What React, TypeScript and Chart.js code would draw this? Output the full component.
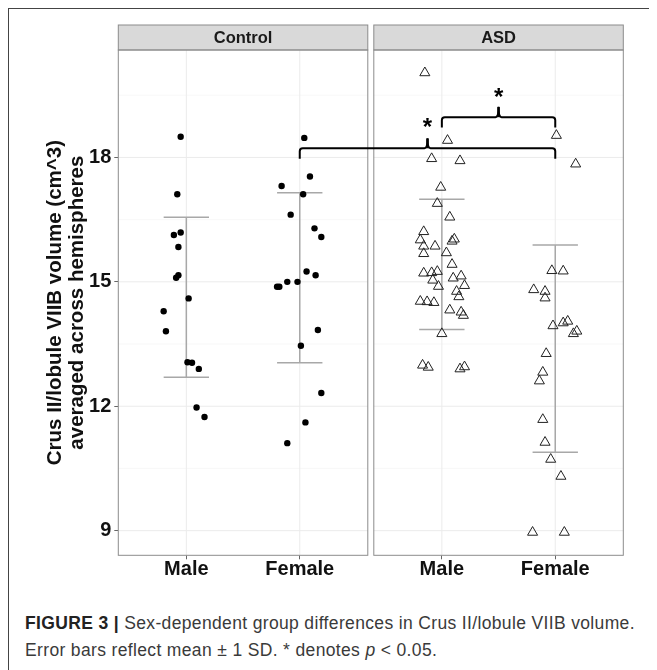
import React, { useEffect, useRef } from "react";
import { Chart, registerables } from "chart.js";

Chart.register(...registerables);

// ---------- data ----------
const groups = ["Control", "ASD"];
const sexes = ["Male", "Female"];
const yTicks = [9, 12, 15, 18];
const yMinorGrid = [10.5, 13.5, 16.5, 19.5];

const controlMaleY = [18.5, 17.11, 16.13, 16.19, 15.84, 15.1, 15.16, 14.6, 14.29, 13.81, 13.06, 13.05, 12.9, 11.97, 11.74];
const controlMaleJitter = [-0.05, -0.08, -0.11, -0.05, -0.07, -0.09, -0.07, 0.02, -0.2, -0.18, 0.01, 0.05, 0.11, 0.09, 0.16];

const controlFemaleY = [18.47, 17.54, 17.31, 17.11, 16.62, 16.29, 16.08, 15.25, 15.16, 15.0, 15.0, 14.88, 14.88, 13.84, 13.46, 12.32, 11.61, 11.11];
const controlFemaleJitter = [0.04, 0.09, -0.16, 0.03, -0.08, 0.13, 0.19, 0.06, 0.14, -0.11, -0.02, -0.2, -0.18, 0.16, 0.01, 0.19, 0.05, -0.11];

const asdMaleY = [20.04, 18.41, 17.97, 17.92, 17.28, 16.89, 16.56, 16.21, 16.01, 16.03, 15.98, 15.86, 15.86, 15.68, 15.7, 15.42, 15.21, 15.22, 15.25, 15.04, 15.09, 15.14, 14.89, 14.91, 14.77, 14.64, 14.53, 14.52, 14.5, 14.32, 14.27, 14.19, 13.75, 12.99, 12.94, 12.9, 12.95];
const asdMaleJitter = [-0.15, 0.05, -0.09, 0.16, -0.01, -0.04, 0.07, -0.16, -0.19, 0.11, 0.09, -0.16, -0.06, -0.16, 0.04, 0.09, -0.16, -0.09, -0.04, -0.08, 0.1, 0.17, -0.03, 0.2, 0.13, 0.15, -0.19, -0.13, -0.07, 0.07, 0.17, 0.19, 0.0, -0.17, -0.12, 0.16, 0.2];

const asdFemaleY = [18.53, 17.84, 15.27, 15.26, 14.81, 14.77, 14.61, 13.94, 14.01, 14.05, 13.81, 13.75, 13.27, 12.82, 12.61, 11.68, 11.13, 10.72, 10.31, 8.96, 8.96];
const asdFemaleJitter = [0.01, 0.18, -0.03, 0.07, -0.19, -0.09, -0.09, -0.02, 0.07, 0.11, 0.19, 0.16, -0.08, -0.11, -0.14, -0.11, -0.09, -0.04, 0.05, -0.2, 0.08];

// mean and SD per group (Control Male, Control Female, ASD Male, ASD Female)
const groupMeans = [14.63, 15.1, 15.42, 13.39];
const groupSD = [1.93, 2.05, 1.57, 2.5];

// significance brackets: [from group index, to group index]
const bracketFrom = [1, 2];
const bracketTo = [3, 3];
const bracketLineY = [18.22, 18.97];
const bracketTipY = [17.97, 18.72];
const bracketNotchY = [18.46, 19.22];
const bracketLabelY = [18.86, 19.6];
const bracketLabels = ["*", "*"];

// ---------- layout helpers (scale units) ----------
const panelWidth = 2.2;
const panelGap = 0.053;
const panelStarts = [0.4, 0.4 + panelWidth + panelGap];
const catPos = (g: number, s: number) => panelStarts[g] + 0.6 + s;
const groupPos = [catPos(0, 0), catPos(0, 1), catPos(1, 0), catPos(1, 1)];
const xTickLabels = [sexes[0], sexes[1], sexes[0], sexes[1]];

const FONT = "'Liberation Sans', Arial, Helvetica, sans-serif";

const facetPlugin = {
  id: "facetPlugin",
  beforeDatasetsDraw(chart: any) {
    const { ctx, chartArea, scales } = chart;
    const x = scales.x;
    const y = scales.y;
    ctx.save();
    panelStarts.forEach((ps, gi) => {
      const l = x.getPixelForValue(ps);
      const r = x.getPixelForValue(ps + panelWidth);
      ctx.fillStyle = "#ffffff";
      ctx.fillRect(l, chartArea.top, r - l, chartArea.bottom - chartArea.top);
      ctx.lineWidth = 0.6;
      ctx.strokeStyle = "#F3F3F3";
      yMinorGrid.forEach((v) => {
        const py = y.getPixelForValue(v);
        ctx.beginPath();
        ctx.moveTo(l, py);
        ctx.lineTo(r, py);
        ctx.stroke();
      });
      ctx.lineWidth = 1;
      ctx.strokeStyle = "#EBEBEB";
      yTicks.forEach((v) => {
        const py = y.getPixelForValue(v);
        ctx.beginPath();
        ctx.moveTo(l, py);
        ctx.lineTo(r, py);
        ctx.stroke();
      });
      sexes.forEach((_, si) => {
        const px = x.getPixelForValue(catPos(gi, si));
        ctx.beginPath();
        ctx.moveTo(px, chartArea.top);
        ctx.lineTo(px, chartArea.bottom);
        ctx.stroke();
      });
    });
    // error bars
    ctx.strokeStyle = "#A8A8A8";
    ctx.lineWidth = 1.5;
    groupPos.forEach((gp, i) => {
      const lo = y.getPixelForValue(groupMeans[i] - groupSD[i]);
      const hi = y.getPixelForValue(groupMeans[i] + groupSD[i]);
      const cx = x.getPixelForValue(gp);
      const cl = x.getPixelForValue(gp - 0.2);
      const cr = x.getPixelForValue(gp + 0.2);
      ctx.beginPath();
      ctx.moveTo(cx, lo);
      ctx.lineTo(cx, hi);
      ctx.moveTo(cl, lo);
      ctx.lineTo(cr, lo);
      ctx.moveTo(cl, hi);
      ctx.lineTo(cr, hi);
      ctx.stroke();
    });
    ctx.restore();
  },
  afterDatasetsDraw(chart: any) {
    const { ctx, chartArea, scales } = chart;
    const x = scales.x;
    const y = scales.y;
    ctx.save();
    const stripH = 25;
    panelStarts.forEach((ps, gi) => {
      const l = x.getPixelForValue(ps);
      const r = x.getPixelForValue(ps + panelWidth);
      ctx.fillStyle = "#D9D9D9";
      ctx.fillRect(l, chartArea.top - stripH, r - l, stripH);
      ctx.strokeStyle = "#8C8C8C";
      ctx.lineWidth = 1;
      ctx.strokeRect(l, chartArea.top - stripH, r - l, stripH);
      ctx.strokeRect(l, chartArea.top, r - l, chartArea.bottom - chartArea.top);
      ctx.fillStyle = "#1a1a1a";
      ctx.font = `bold 16.5px ${FONT}`;
      ctx.textAlign = "center";
      ctx.textBaseline = "middle";
      ctx.fillText(groups[gi], (l + r) / 2, chartArea.top - stripH / 2 + 1);
    });
    // brackets
    ctx.strokeStyle = "#000";
    ctx.lineWidth = 2;
    ctx.lineJoin = "round";
    bracketFrom.forEach((f, i) => {
      const x1 = x.getPixelForValue(groupPos[f]);
      const x2 = x.getPixelForValue(groupPos[bracketTo[i]]);
      const xm = (x1 + x2) / 2;
      const yl = y.getPixelForValue(bracketLineY[i]);
      const yt = y.getPixelForValue(bracketTipY[i]);
      const yn = y.getPixelForValue(bracketNotchY[i]);
      const rr = 3;
      ctx.beginPath();
      ctx.moveTo(x1, yt);
      ctx.lineTo(x1, yl + rr);
      ctx.quadraticCurveTo(x1, yl, x1 + rr, yl);
      ctx.lineTo(xm - rr, yl);
      ctx.quadraticCurveTo(xm, yl, xm, yn + 1);
      ctx.quadraticCurveTo(xm, yl, xm + rr, yl);
      ctx.lineTo(x2 - rr, yl);
      ctx.quadraticCurveTo(x2, yl, x2, yl + rr);
      ctx.lineTo(x2, yt);
      ctx.stroke();
      ctx.beginPath();
      ctx.moveTo(xm, yl);
      ctx.lineTo(xm, yn);
      ctx.lineWidth = 2.5;
      ctx.stroke();
      ctx.lineWidth = 2;
      ctx.fillStyle = "#000";
      ctx.font = `bold 24px ${FONT}`;
      ctx.textAlign = "center";
      ctx.textBaseline = "alphabetic";
      const ly = y.getPixelForValue(bracketLabelY[i]);
      ctx.fillText(bracketLabels[i], xm, ly + 13.5);
    });
    ctx.restore();
  },
};

export default function App() {
  const ref = useRef<HTMLCanvasElement>(null);
  useEffect(() => {
    if (!ref.current) return;
    Chart.defaults.font.family = FONT;
    const mk = (ys: number[], js: number[], g: number, s: number) =>
      ys.map((v, i) => ({ x: catPos(g, s) + js[i], y: v }));
    const circleStyle = {
      pointStyle: "circle",
      pointRadius: 3.2,
      pointBackgroundColor: "#000",
      pointBorderWidth: 0,
      showLine: false,
    };
    const triStyle = {
      pointStyle: "triangle",
      pointRadius: 5.8,
      pointBackgroundColor: "rgba(0,0,0,0)",
      pointBorderColor: "#222",
      pointBorderWidth: 1,
      showLine: false,
    };
    const chart = new Chart(ref.current, {
      type: "scatter",
      data: {
        datasets: [
          { label: "Control Male", data: mk(controlMaleY, controlMaleJitter, 0, 0), ...circleStyle },
          { label: "Control Female", data: mk(controlFemaleY, controlFemaleJitter, 0, 1), ...circleStyle },
          { label: "ASD Male", data: mk(asdMaleY, asdMaleJitter, 1, 0), ...triStyle },
          { label: "ASD Female", data: mk(asdFemaleY, asdFemaleJitter, 1, 1), ...triStyle },
        ] as any,
      },
      options: {
        animation: false,
        responsive: false,
        maintainAspectRatio: false,
        devicePixelRatio: 1,
        layout: { padding: { left: 0, right: 33.7, top: 42, bottom: 0 } },
        plugins: { legend: { display: false }, tooltip: { enabled: false } },
        scales: {
          x: {
            type: "linear",
            min: panelStarts[0],
            max: panelStarts[1] + panelWidth,
            afterBuildTicks: (axis: any) => {
              axis.ticks = groupPos.map((v) => ({ value: v }));
            },
            afterFit: (axis: any) => {
              axis.height = 44.7;
            },
            ticks: {
              autoSkip: false,
              maxRotation: 0,
              padding: 0,
              color: "#111",
              font: { size: 20, weight: "bold", lineHeight: 1 },
              callback: (_v: any, i: number) => xTickLabels[i],
            },
            grid: { drawOnChartArea: false, drawTicks: true, tickLength: 4, color: "#666" },
            border: { display: false },
          },
          y: {
            type: "linear",
            min: 8.406,
            max: 20.59,
            afterBuildTicks: (axis: any) => {
              axis.ticks = yTicks.map((v) => ({ value: v }));
            },
            afterFit: (axis: any) => {
              axis.width = 110.3;
            },
            ticks: {
              padding: 3,
              color: "#111",
              font: { size: 20, weight: "bold", lineHeight: 1 },
              callback: (v: any) => String(v),
            },
            grid: { drawOnChartArea: false, drawTicks: true, tickLength: 4, color: "#666" },
            border: { display: false },
            title: {
              display: true,
              text: ["Crus II/lobule VIIB volume (cm^3)", "averaged across hemispheres"],
              color: "#111",
              font: { size: 20.5, weight: "bold", lineHeight: 1.07 },
              padding: { top: 36, bottom: 0 },
            },
          },
        },
      },
      plugins: [facetPlugin],
    } as any);
    return () => chart.destroy();
  }, []);

  return (
    <div style={{ position: "relative", width: 649, height: 662, overflow: "hidden" }}>
      <div
        style={{
          position: "absolute",
          left: 0,
          top: 0,
          width: 900,
          height: 900,
          borderTop: "1px solid #444",
          borderLeft: "1px solid #444",
          boxSizing: "border-box",
        }}
      />
      <canvas
        ref={ref}
        width={649}
        height={592}
        style={{ position: "absolute", left: 0, top: 0, width: 649, height: 592 }}
      />
      <div
        style={{
          position: "absolute",
          left: 17,
          top: 601.5,
          width: 630,
          fontFamily: FONT,
          fontSize: 17.5,
          lineHeight: "27px",
          color: "#3a3a3a",
          letterSpacing: "0.35px",
          whiteSpace: "nowrap",
        }}
      >
        <div>
          <b style={{ color: "#222" }}>FIGURE 3 |</b> Sex-dependent group differences in Crus II/lobule VIIB volume.
        </div>
        <div>
          Error bars reflect mean ± 1 SD. * denotes <i>p</i> &lt; 0.05.
        </div>
      </div>
    </div>
  );
}
